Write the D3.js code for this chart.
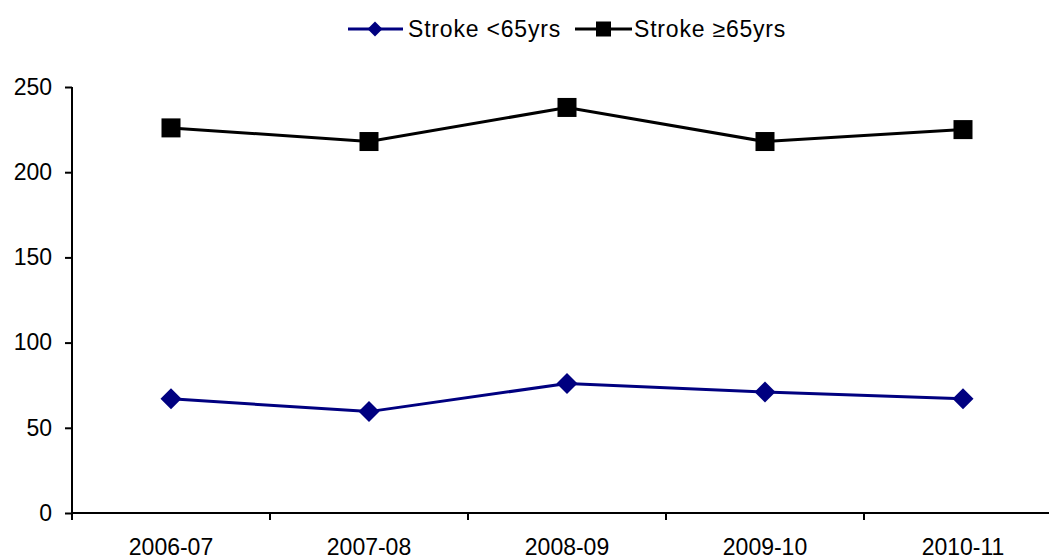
<!DOCTYPE html>
<html><head><meta charset="utf-8">
<script src="https://cdn.jsdelivr.net/npm/d3@7"></script>
<style>
body{margin:0;background:#fff;}
svg text{font-family:"Liberation Sans",Arial,sans-serif;fill:#000;}
</style></head>
<body><svg id="c" width="1049" height="559"></svg>
<script>
const categories = ["2006-07","2007-08","2008-09","2009-10","2010-11"];
const under65 = [67, 59.5, 76, 71, 67];
const over65 = [226, 218, 238, 218, 225];
const yTicks = [0,50,100,150,200,250];
const seriesNames = ["Stroke <65yrs","Stroke \u226565yrs"];

const svg = d3.select("#c");
const x = d3.scaleBand().domain(categories).range([72,1062]);
const y = d3.scaleLinear().domain([0,250]).range([513,87]);
const fs = 23;

// y axis
const ya = svg.append("g").attr("transform","translate(72,0)")
  .call(d3.axisLeft(y).tickValues(yTicks).tickSize(7).tickPadding(13).tickFormat(d3.format("d")));
ya.selectAll("path").attr("d","M0,"+y(250)+"V"+y(0)).attr("stroke","#000").attr("stroke-width",2);
ya.selectAll("line").attr("stroke","#000").attr("stroke-width",2);
ya.selectAll("text").attr("font-size",fs).attr("font-family","Liberation Sans, Arial, sans-serif");

// x axis
const xa = svg.append("g").attr("transform","translate(0,"+y(0)+")")
  .call(d3.axisBottom(x).tickSize(0).tickPadding(26));
xa.selectAll("path").attr("d","M72,0H1062").attr("stroke","#000").attr("stroke-width",2);
xa.selectAll("text").attr("font-size",fs).attr("font-family","Liberation Sans, Arial, sans-serif");
// category boundary ticks
const bounds = categories.map(c=>x(c)).concat([x.range()[1]]);
svg.append("g").selectAll("line").data(bounds).join("line")
  .attr("x1",d=>d).attr("x2",d=>d).attr("y1",y(0)).attr("y2",y(0)+7)
  .attr("stroke","#000").attr("stroke-width",2);

const cx = c => x(c) + x.bandwidth()/2;
const line = d3.line().x((d,i)=>cx(categories[i])).y(d=>y(d));

// under 65 series
svg.append("path").datum(under65).attr("d",line).attr("fill","none")
  .attr("stroke","#000080").attr("stroke-width",3);
const diamond = (s) => `M0,${-s}L${s},0L0,${s}L${-s},0Z`;
svg.append("g").selectAll("path").data(under65).join("path")
  .attr("d",diamond(10.5)).attr("fill","#000080")
  .attr("transform",(d,i)=>`translate(${cx(categories[i])},${y(d)})`);

// over 65 series
svg.append("path").datum(over65).attr("d",line).attr("fill","none")
  .attr("stroke","#000").attr("stroke-width",3);
svg.append("g").selectAll("rect").data(over65).join("rect")
  .attr("x",(d,i)=>cx(categories[i])-9.5).attr("y",d=>y(d)-9.5)
  .attr("width",19).attr("height",19).attr("fill","#000");

// legend
const ly = 29;
const lg = svg.append("g");
lg.append("line").attr("x1",348).attr("x2",403).attr("y1",ly).attr("y2",ly).attr("stroke","#000080").attr("stroke-width",3);
lg.append("path").attr("d",diamond(7.5)).attr("fill","#000080").attr("transform",`translate(375,${ly})`);
lg.append("text").attr("x",408).attr("y",ly+8).attr("font-size",fs).attr("letter-spacing",0.8).text(seriesNames[0]);
lg.append("line").attr("x1",575).attr("x2",632).attr("y1",ly).attr("y2",ly).attr("stroke","#000").attr("stroke-width",3);
lg.append("rect").attr("x",596).attr("y",ly-7.5).attr("width",15).attr("height",15).attr("fill","#000");
lg.append("text").attr("x",634).attr("y",ly+8).attr("font-size",fs).attr("letter-spacing",0.8).text(seriesNames[1]);
</script></body></html>
